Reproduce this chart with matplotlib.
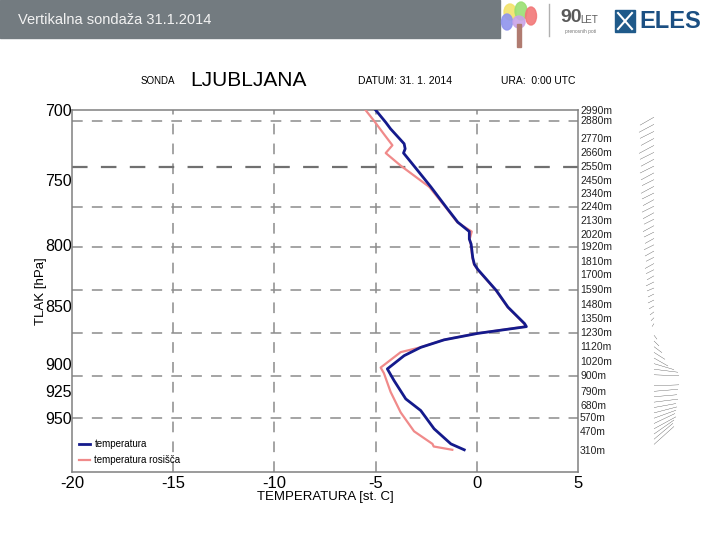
import matplotlib
matplotlib.use('Agg')
import matplotlib.pyplot as plt
import matplotlib.patches as mpatches
from matplotlib.ticker import FixedLocator, NullLocator, FixedFormatter

plt.rcParams['font.family'] = ['Liberation Sans', 'DejaVu Sans']

# temperatura (blue)
temp_p = [700, 708.6, 713.2, 723.8, 727.4, 730.5, 737, 755.4, 770.6, 782.3, 789.6, 795.5, 799.5,
          810.3, 815.6, 819.8, 837, 851, 865, 867.6, 873.4, 879, 885.6, 892.9, 904.7, 915.2,
          932, 942.8, 960, 974.5, 980.2]
temp_t = [-5.0, -4.5, -4.26, -3.59, -3.54, -3.62, -3.26, -2.27, -1.52, -0.94, -0.37, -0.37, -0.28,
          -0.20, -0.12, 0.05, 0.96, 1.54, 2.36, 2.45, 0.05, -1.61, -2.77, -3.59, -4.42, -4.09,
          -3.51, -2.77, -2.11, -1.28, -0.62]

# temperatura rosišča (pink)
dew_p = [700, 707.5, 716.9, 724.9, 730.5, 739.7, 755.4, 770.6, 782.3, 789.6, 795.5, 799.5, 810.3,
         815.6, 819.8, 837, 851, 865, 867.6, 873.4, 879, 885.6, 889.8, 903.5, 908.5, 925.5,
         944.6, 962.4, 974.5, 977, 980.2]
dew_t = [-5.5, -5.08, -4.59, -4.17, -4.5, -3.76, -2.35, -1.55, -0.97, -0.25, -0.35, -0.3, -0.22,
         -0.14, 0.03, 0.94, 1.52, 2.34, 2.39, 0.03, -1.63, -2.79, -3.76, -4.75, -4.59, -4.26,
         -3.76, -3.10, -2.19, -2.13, -1.21]

# heights on the right side
heights = [2990, 2880, 2770, 2660, 2550, 2450, 2340, 2240, 2130, 2020, 1920, 1810, 1700, 1590,
           1480, 1350, 1230, 1120, 1020, 900, 790, 680, 570, 470, 310]
height_p = [700.5, 708.0, 720.7, 730.5, 740.4, 751.0, 761.0, 770.9, 781.6, 792.4, 802.1, 813.4,
            824.3, 836.6, 848.8, 861.0, 873.0, 885.5, 898.2, 910.7, 925.9, 938.9, 949.7, 963.3, 980.9]
grid_heights = [2880, 2550, 2240, 1920, 1590, 1230, 900, 570]

p_ticks = [700, 750, 800, 850, 900, 925, 950]
t_ticks = [-20, -15, -10, -5, 0, 5]

# wind sticks (u, v) per level
wind_p = [705, 710, 715, 720, 725, 730, 735, 740, 745, 750, 755, 760,
          765, 770, 775, 780, 785, 790, 795, 800,
          805, 810, 815, 820, 825, 830, 835, 840, 845,
          850, 855, 860, 865, 870,
          875, 880, 885, 890, 895,
          900, 905, 910, 915, 920, 925, 930,
          935, 940, 945, 950, 955, 960, 965, 970, 975]
wind_u = [-14, -15, -14, -13, -15, -14, -13, -14, -13, -12, -13, -12,
          -11, -12, -11, -10, -11, -10, -9, -10,
          -9, -8, -9, -8, -7, -8, -7, -6, -6,
          -5, -4, -3, -2, 0,
          3, 5, 8, 11, 14,
          20, 24, 25, 24, 25, 24, 23,
          24, 22, 23, 22, 21, 22, 20, 19, 20]
wind_v = [-8, -8, -7, -7, -8, -7, -7, -7, -7, -6, -7, -6,
          -6, -6, -6, -5, -6, -5, -5, -5,
          -5, -4, -5, -4, -4, -4, -3, -3, -3,
          -3, -3, -3, -3, -3,
          -4, -5, -6, -7, -8,
          -6, -3, -1, 0, 1, 2, 2,
          3, 4, 6, 8, 10, 12, 14, 16, 18]

W, H = 720, 540
fig = plt.figure(figsize=(7.2, 5.4), dpi=100)
fig.patch.set_facecolor('white')

# header / logos
bg = fig.add_axes([0, 0, 1, 1])
bg.set_xlim(0, W)
bg.set_ylim(H, 0)
bg.axis('off')
bg.add_patch(mpatches.Rectangle((0, 0), 500, 38, color='#737b80'))
bg.text(18, 20, 'Vertikalna sondaža 31.1.2014', color='#f2f2f2', fontsize=10.5, va='center')
for (cx, cy, w, h, c) in [(510, 12, 12, 16, '#f3e36a'), (521, 11, 12, 18, '#9adf72'),
                          (507, 22, 11, 16, '#8f94ee'), (531, 16, 11, 18, '#f27878'),
                          (519, 22, 12, 12, '#c9a3e8')]:
    bg.add_patch(mpatches.Ellipse((cx, cy), w, h, color=c, alpha=0.9))
bg.add_patch(mpatches.Rectangle((517, 24), 4, 23, color='#b07b70'))
bg.plot([549, 549], [4, 36], color='#b0b0b0', lw=1)
bg.text(560, 18, '90', fontsize=14, fontweight='bold', color='#5a5a5a', va='center')
bg.text(580, 20, 'LET', fontsize=7, color='#5a5a5a', va='center')
bg.text(565, 31, 'prenosnih poti', fontsize=3.5, color='#777777', va='center')
bg.add_patch(mpatches.Rectangle((615, 10), 20, 22, color='#1f5a8a'))
bg.plot([618, 632], [13, 29], color='white', lw=1.5)
bg.plot([618, 632], [29, 13], color='white', lw=1.5)
bg.text(639, 21, 'ELES', fontsize=17, fontweight='bold', color='#1b4f82', va='center')

# title line
fig.text(158 / W, 1 - 81 / H, 'SONDA', fontsize=7, ha='center', va='center')
fig.text(248 / W, 1 - 80 / H, 'LJUBLJANA', fontsize=15, ha='center', va='center')
fig.text(405 / W, 1 - 81 / H, 'DATUM: 31. 1. 2014', fontsize=7.5, ha='center', va='center')
fig.text(538 / W, 1 - 81 / H, 'URA:  0:00 UTC', fontsize=7.5, ha='center', va='center')

# main axes
left, right, top, bottom = 72, 578, 110, 472
ax = fig.add_axes([left / W, 1 - bottom / H, (right - left) / W, (bottom - top) / H])
ax.set_yscale('log')
ax.set_ylim(1002, 700)
ax.set_xlim(-20, 5)

grid_col = '#8c8c8c'
for t in t_ticks[1:-1]:
    ax.axvline(t, color=grid_col, lw=1.1, dashes=(7, 6), zorder=1)
for hgt, p in zip(heights, height_p):
    if hgt in grid_heights:
        col = '#707070' if hgt == 2550 else grid_col
        lw = 1.6 if hgt == 2550 else 1.1
        ax.axhline(p, color=col, lw=lw, dashes=(7, 6), zorder=1)

ax.plot(dew_t, dew_p, color='#f08a8a', lw=1.6, label='temperatura rosišča', zorder=3)
ax.plot(temp_t, temp_p, color='#141a8c', lw=2.0, label='temperatura', zorder=4)

ax.yaxis.set_major_locator(FixedLocator(p_ticks))
ax.yaxis.set_major_formatter(FixedFormatter([str(p) for p in p_ticks]))
ax.yaxis.set_minor_locator(NullLocator())
ax.set_xticks(t_ticks)
ax.set_xticklabels([str(t) for t in t_ticks])
ax.tick_params(axis='y', length=0, pad=0, labelsize=11.5)
ax.tick_params(axis='x', length=0, pad=3, labelsize=12)
for s in ax.spines.values():
    s.set_color('#808080')
    s.set_linewidth(1.1)

ax.set_xlabel('TEMPERATURA [st. C]', fontsize=9.5, labelpad=0)
ax.set_ylabel('TLAK [hPa]', fontsize=9.5, labelpad=-1)

for hgt, p in zip(heights, height_p):
    ax.text(1.004, p, f'{hgt}m', transform=ax.get_yaxis_transform(), fontsize=7.5,
            ha='left', va='center', color='#222222', clip_on=False)

handles, labels = ax.get_legend_handles_labels()
ax.legend(handles[::-1], labels[::-1], loc='lower left', frameon=False, fontsize=7,
          handlelength=1.2, handletextpad=0.4, borderaxespad=0.3, labelspacing=0.6)

# wind sticks
wl, wr = 620, 700
axw = fig.add_axes([wl / W, 1 - bottom / H, (wr - wl) / W, (bottom - top) / H])
axw.set_yscale('log')
axw.set_ylim(1002, 700)
axw.set_xlim(0, 1)
axw.axis('off')
base_x = (654 - wl) / (wr - wl)
axw.quiver([base_x] * len(wind_p), wind_p, wind_u, wind_v, angles='uv', scale_units='inches',
           scale=100, headwidth=0, headlength=0, headaxislength=0, width=0.004,
           color='#333333', pivot='tail')

fig.savefig('out.png', dpi=100)
